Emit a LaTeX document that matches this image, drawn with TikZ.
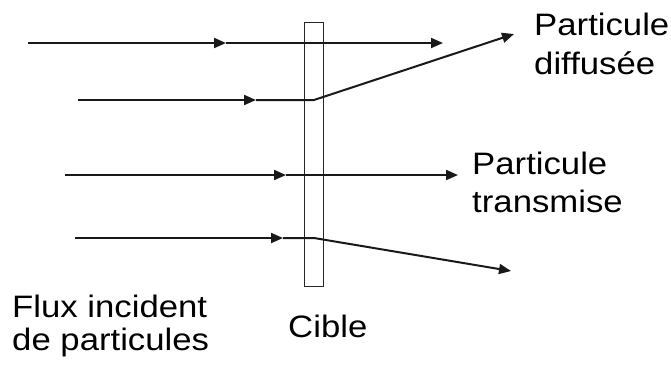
\documentclass[tikz,border=0pt]{standalone}
\usepackage{fontspec}
\setmainfont{Liberation Sans}
\usetikzlibrary{arrows.meta}
\begin{document}
\begin{tikzpicture}[x=1pt,y=-1pt,
  ray/.style={line width=2pt,draw=black!90,-{Triangle[length=12pt,width=10pt]}},
  target/.style={draw=black!85,line width=1.3pt,fill=white},
  lbl/.style={inner sep=0pt,align=left,xscale=1.12,font=\fontsize{31}{38}\selectfont}]
\useasboundingbox (0,0) rectangle (671,365);
% incoming ray start points and mid-arrow points
\coordinate (s1) at (28,43);  \coordinate (m1) at (226,43);
\coordinate (s2) at (78,100); \coordinate (m2) at (256,100);
\coordinate (s3) at (65,175); \coordinate (m3) at (286,175);
\coordinate (s4) at (75,238); \coordinate (m4) at (283,238);
% interaction points in the target
\coordinate (b2) at (314,100);
\coordinate (b4) at (314,238);
% outgoing ends
\coordinate (e1) at (443,43);
\coordinate (e2) at (514,34);
\coordinate (e3) at (458,175);
\coordinate (e4) at (511,271);
% rays
\draw[ray] (s1) -- (m1);
\draw[ray] (s2) -- (m2);
\draw[ray] (s3) -- (m3);
\draw[ray] (s4) -- (m4);
% target
\node[target,minimum width=19pt,minimum height=264pt,inner sep=0pt,anchor=north west] (cible) at (304,22) {};
\draw[ray] (m1) -- (e1);
\draw[ray] (m2) -- (b2) -- (e2);
\draw[ray] (m3) -- (e3);
\draw[ray] (m4) -- (b4) -- (e4);
% labels (anchor = baseline of last line)
\node[lbl,anchor=base west,font=\fontsize{31}{39}\selectfont] (ldiff) at (534,74) {Particule\\diffusée};
\node[lbl,anchor=base west] (ltrans) at (472,212) {Particule\\transmise};
\node[lbl,anchor=base west,font=\fontsize{31}{33}\selectfont] (lflux) at (12,350) {Flux incident\\de particules};
\node[lbl,anchor=base west] (lcible) at (288,337) {Cible};
\end{tikzpicture}
\end{document}
